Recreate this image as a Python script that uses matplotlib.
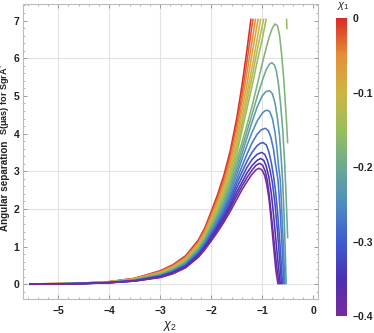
import numpy as np
import matplotlib
matplotlib.use("Agg")
import matplotlib.pyplot as plt
from matplotlib.colors import LinearSegmentedColormap, Normalize
from matplotlib.cm import ScalarMappable
from matplotlib.ticker import MultipleLocator

plt.rcParams['font.family'] = ['Liberation Sans', 'DejaVu Sans']
plt.rcParams['mathtext.fontset'] = 'custom'
plt.rcParams['mathtext.rm'] = 'Liberation Sans'
plt.rcParams['mathtext.it'] = 'Liberation Sans:italic'
plt.rcParams['mathtext.bf'] = 'Liberation Sans:bold'

# chi_1 value of each curve (red -> purple)
chi1 = [0.0, -0.025, -0.05, -0.075, -0.1, -0.125, -0.15, -0.175, -0.2,
        -0.225, -0.25, -0.275, -0.3, -0.325, -0.35, -0.375, -0.4]

# common rising part
x_rise = [-5.57, -5.0, -4.5, -4.0, -3.5, -3.0, -2.75, -2.5, -2.25, -2.125,
          -2.0, -1.875, -1.75, -1.625, -1.5]
y_rise = [
    [0.010, 0.020, 0.035, 0.070, 0.160, 0.360, 0.52, 0.76, 1.18, 1.50, 1.93, 2.38, 2.90, 3.55, 4.40],
    [0.009, 0.019, 0.034, 0.068, 0.155, 0.345, 0.50, 0.73, 1.14, 1.46, 1.87, 2.30, 2.80, 3.43, 4.24],
    [0.009, 0.018, 0.033, 0.066, 0.150, 0.330, 0.48, 0.71, 1.11, 1.41, 1.81, 2.23, 2.70, 3.31, 4.09],
    [0.008, 0.018, 0.031, 0.064, 0.140, 0.315, 0.46, 0.69, 1.08, 1.37, 1.75, 2.15, 2.61, 3.19, 3.92],
    [0.008, 0.017, 0.030, 0.062, 0.135, 0.300, 0.45, 0.66, 1.04, 1.33, 1.70, 2.08, 2.52, 3.06, 3.75],
    [0.007, 0.016, 0.029, 0.060, 0.130, 0.290, 0.43, 0.64, 1.01, 1.29, 1.64, 2.01, 2.43, 2.95, 3.60],
    [0.006, 0.015, 0.028, 0.058, 0.125, 0.280, 0.41, 0.62, 0.98, 1.25, 1.59, 1.95, 2.35, 2.84, 3.45],
    [0.006, 0.014, 0.027, 0.056, 0.120, 0.265, 0.40, 0.60, 0.95, 1.21, 1.54, 1.88, 2.27, 2.73, 3.30],
    [0.005, 0.014, 0.026, 0.054, 0.115, 0.255, 0.38, 0.58, 0.92, 1.17, 1.49, 1.82, 2.19, 2.63, 3.16],
    [0.005, 0.013, 0.025, 0.052, 0.110, 0.245, 0.37, 0.56, 0.90, 1.14, 1.44, 1.76, 2.11, 2.53, 3.03],
    [0.004, 0.012, 0.024, 0.050, 0.105, 0.235, 0.36, 0.54, 0.87, 1.11, 1.40, 1.70, 2.04, 2.44, 2.91],
    [0.003, 0.012, 0.023, 0.048, 0.100, 0.225, 0.34, 0.52, 0.84, 1.07, 1.35, 1.64, 1.97, 2.34, 2.78],
    [0.003, 0.011, 0.022, 0.046, 0.098, 0.215, 0.33, 0.50, 0.82, 1.04, 1.31, 1.59, 1.90, 2.26, 2.67],
    [0.002, 0.010, 0.021, 0.045, 0.095, 0.205, 0.32, 0.49, 0.79, 1.01, 1.27, 1.54, 1.83, 2.17, 2.56],
    [0.002, 0.010, 0.020, 0.043, 0.090, 0.195, 0.31, 0.47, 0.77, 0.98, 1.23, 1.49, 1.77, 2.09, 2.45],
    [0.001, 0.009, 0.019, 0.042, 0.088, 0.190, 0.29, 0.46, 0.74, 0.95, 1.19, 1.44, 1.71, 2.02, 2.35],
    [0.000, 0.008, 0.018, 0.040, 0.085, 0.180, 0.28, 0.44, 0.72, 0.92, 1.15, 1.39, 1.65, 1.94, 2.25],
]

# upper part of each curve (peaks and fall), nan = gap above the plot range
nan = np.nan
x_top = [
    [-1.45, -1.4, -1.3, -1.22],
    [-1.4, -1.3, -1.18],
    [-1.4, -1.3, -1.2, -1.13],
    [-1.4, -1.3, -1.2, -1.08],
    [-1.4, -1.3, -1.2, -1.1, -1.03],
    [-1.4, -1.3, -1.2, -1.1, -1.0, -0.97],
    [-1.4, -1.3, -1.2, -1.1, -1.0, -0.92, nan, -0.522, -0.515],
    [-1.4, -1.3, -1.2, -1.1, -1.0, -0.92, -0.86, -0.8, -0.75, -0.7, -0.66, -0.62,
     -0.58, -0.55, -0.52, -0.50],
    [-1.4, -1.3, -1.2, -1.1, -1.0, -0.92, -0.86, -0.81, -0.76, -0.72, -0.68, -0.64,
     -0.6, -0.56, -0.53, -0.50],
    [-1.4, -1.3, -1.2, -1.1, -1.0, -0.93, -0.86, -0.8, -0.75, -0.7, -0.66, -0.63,
     -0.6, -0.57, -0.55, -0.53],
    [-1.4, -1.3, -1.2, -1.1, -1.0, -0.95, -0.90, -0.85, -0.8, -0.75, -0.71, -0.68,
     -0.645, -0.61, -0.58, -0.555],
    [-1.4, -1.3, -1.2, -1.1, -1.02, -0.94, -0.88, -0.83, -0.78, -0.74, -0.69, -0.65,
     -0.61, -0.575],
    [-1.4, -1.3, -1.2, -1.1, -1.04, -0.98, -0.92, -0.87, -0.82, -0.78, -0.74, -0.7,
     -0.65, -0.6],
    [-1.4, -1.3, -1.2, -1.1, -1.01, -0.95, -0.9, -0.85, -0.8, -0.75, -0.7, -0.66, -0.62],
    [-1.4, -1.3, -1.2, -1.1, -1.03, -0.97, -0.92, -0.87, -0.82, -0.77, -0.72, -0.68, -0.645],
    [-1.4, -1.3, -1.2, -1.12, -1.05, -0.99, -0.94, -0.9, -0.86, -0.81, -0.75, -0.7, -0.665],
    [-1.4, -1.3, -1.2, -1.12, -1.06, -1.0, -0.95, -0.91, -0.87, -0.83, -0.78, -0.73, -0.69],
]
y_top = [
    [4.82, 5.25, 6.2, 7.05],
    [5.0, 5.9, 7.05],
    [4.8, 5.6, 6.45, 7.05],
    [4.6, 5.3, 6.1, 7.05],
    [4.4, 5.05, 5.75, 6.5, 7.05],
    [4.22, 4.85, 5.5, 6.2, 6.85, 7.05],
    [4.05, 4.65, 5.25, 5.9, 6.5, 7.05, nan, 7.05, 6.77],
    [3.75, 4.22, 4.72, 5.28, 5.85, 6.28, 6.58, 6.8, 6.91, 6.86, 6.62, 6.12,
     5.5, 4.89, 4.25, 3.74],
    [3.6, 4.05, 4.5, 4.97, 5.4, 5.7, 5.84, 5.88, 5.82, 5.65, 5.3, 4.8,
     4.15, 3.25, 2.3, 1.22],
    [3.45, 3.88, 4.3, 4.7, 5.0, 5.11, 5.14, 5.06, 4.82, 4.4, 3.95, 3.4,
     2.77, 1.8, 1.0, 0.0],
    [3.3, 3.68, 4.03, 4.33, 4.54, 4.6, 4.62, 4.58, 4.4, 4.05, 3.6, 3.15,
     2.77, 1.8, 0.9, 0.0],
    [3.12, 3.45, 3.75, 3.98, 4.1, 4.14, 4.08, 3.9, 3.6, 3.2, 2.77, 2.0, 1.0, 0.0],
    [2.97, 3.26, 3.5, 3.68, 3.74, 3.76, 3.7, 3.52, 3.22, 2.9, 2.5, 1.95, 1.05, 0.0],
    [2.83, 3.1, 3.31, 3.45, 3.5, 3.45, 3.3, 3.05, 2.7, 2.15, 1.4, 0.7, 0.0],
    [2.7, 2.95, 3.15, 3.29, 3.34, 3.29, 3.13, 2.85, 2.4, 1.75, 1.0, 0.45, 0.0],
    [2.6, 2.83, 3.03, 3.16, 3.21, 3.16, 3.0, 2.75, 2.35, 1.7, 0.9, 0.3, 0.0],
    [2.5, 2.72, 2.92, 3.04, 3.08, 3.03, 2.88, 2.65, 2.3, 1.8, 1.05, 0.35, 0.0],
]

x_ticks = [-5, -4, -3, -2, -1, 0]
y_ticks = [0, 1, 2, 3, 4, 5, 6, 7]
x_grid = [-5, -4, -3, -2, -1]
y_grid = [0, 2, 3, 6]
cbar_ticks = [0, -0.1, -0.2, -0.3, -0.4]

rainbow = LinearSegmentedColormap.from_list("rainbow_mma", [
    "#782a9c", "#4b30b4", "#3f5cd0", "#4e8cc0", "#6aaa90",
    "#98be5e", "#cdb545", "#e4903a", "#db2b27"])
norm = Normalize(vmin=-0.4, vmax=0.0)

fig = plt.figure(figsize=(3.74, 3.33), dpi=100)
ax = fig.add_axes([0.0607, 0.1021, 0.790, 0.886])

for xv in x_grid:
    ax.axvline(xv, color="#e2e2e2", lw=0.8, zorder=0)
for yv in y_grid:
    ax.axhline(yv, color="#e2e2e2", lw=0.8, zorder=0)

for k, c1 in enumerate(chi1):
    xs = x_rise + x_top[k]
    ys = y_rise[k] + y_top[k]
    ax.plot(xs, ys, color=rainbow(norm(c1)), lw=1.15, solid_capstyle="butt", zorder=2)

ax.set_xlim(-5.698, 0.098)
ax.set_ylim(-0.39, 7.44)
ax.set_xticks(x_ticks)
ax.set_xticklabels([("\u2212%d" % -v) if v < 0 else "%d" % v for v in x_ticks])
ax.set_yticks(y_ticks)
ax.xaxis.set_minor_locator(MultipleLocator(0.2))
ax.yaxis.set_minor_locator(MultipleLocator(0.2))
ax.tick_params(which="both", direction="in", top=True, right=True, color="#999999",
               labelsize=7.5, labelcolor="#222222")
ax.tick_params(which="major", length=3.2, width=0.7)
ax.tick_params(which="minor", length=1.7, width=0.5)
ax.tick_params(axis="x", pad=5)
ax.tick_params(axis="y", pad=2.5)
for lab in ax.get_xticklabels() + ax.get_yticklabels():
    lab.set_fontweight("bold")
for sp in ax.spines.values():
    sp.set_color("#bbbbbb")
    sp.set_linewidth(0.8)

# y label: two parts, as in the reference
fig.text(5.5 / 374, 1 - 186 / 333, "Angular separation", rotation=90,
         ha="center", va="center", fontsize=7.1, fontweight="bold", color="#222222")
fig.text(5.5 / 374, 1 - 99 / 333, "S(\u03bcas) for SgrA$^{*}$", rotation=90,
         ha="center", va="center", fontsize=6.6, fontweight="bold", color="#222222")
fig.text(170.5 / 374, 1 - 326 / 333, r"$\chi_2$", ha="center", va="center",
         fontsize=9, color="#222222")

cax = fig.add_axes([0.8984, 0.051, 0.0294, 0.894])
cb = fig.colorbar(ScalarMappable(norm=norm, cmap=rainbow), cax=cax)
cb.outline.set_visible(False)
cb.set_ticks(cbar_ticks)
cb.set_ticklabels(["0"] + ["\u2212%.1f" % -v for v in cbar_ticks[1:]])
cax.tick_params(length=0, pad=4, labelsize=7.5, labelcolor="#222222")
for lab in cax.get_yticklabels():
    lab.set_fontweight("bold")
fig.text(343 / 374, 1 - 6 / 333, r"$\chi_1$", ha="center", va="center",
         fontsize=8, color="#222222")

fig.savefig("out.png", dpi=100)
